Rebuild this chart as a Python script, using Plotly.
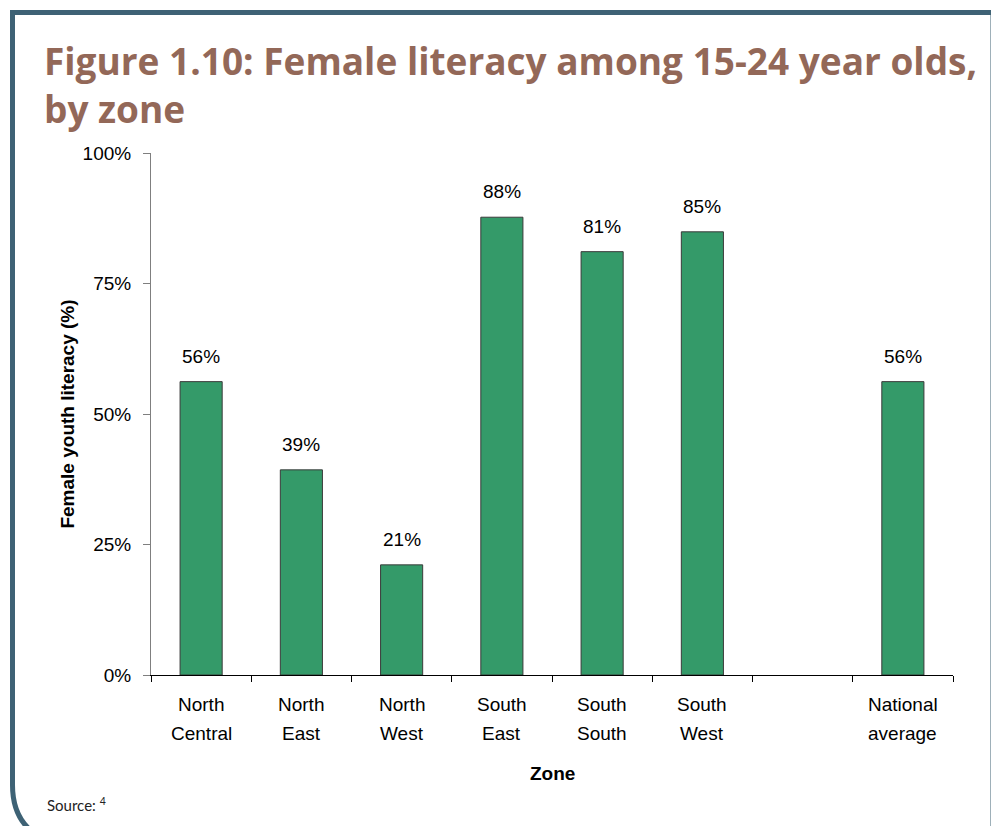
import plotly.graph_objects as go

# ---- data ----
zones = ["North Central", "North East", "North West", "South East",
         "South South", "South West", " ", "National average"]
label_line1 = ["North", "North", "North", "South", "South", "South", "", "National"]
label_line2 = ["Central", "East", "West", "East", "South", "West", "", "average"]
literacy = [56.2, 39.3, 21.1, 87.7, 81.1, 84.9, None, 56.2]
y_ticks = [0, 25, 50, 75, 100]
y_tick_text = ["0%", "25%", "50%", "75%", "100%"]
title_lines = ["Figure 1.10: Female literacy among 15-24 year olds,", "by zone"]

# page body has an 8px margin: screen pixel = figure pixel + 8
OFF = 8
W, H = 999 - OFF, 834 - 2 * OFF
L, R, T, B = 151 - OFF, 999 - 953, 153 - OFF, 834 - OFF - 675
PW, PH = W - L - R, H - T - B


def px(x):  # screen x -> paper
    return (x - OFF - L) / PW


def py(y):  # screen y -> paper
    return (H - B - (y - OFF)) / PH


BAR = "#349a69"
TITLE_C = "#936858"
FRAME_C = "#3e6275"
AX_FONT = "Liberation Sans, Arial, sans-serif"

fig = go.Figure()
fig.add_trace(go.Bar(
    x=zones, y=literacy, width=0.42,
    marker=dict(color=BAR, line=dict(color="#3a3a3a", width=1)),
    hoverinfo="skip",
))

ann = []
# data labels
for z, v in zip(zones, literacy):
    if v is None:
        continue
    ann.append(dict(x=z, y=v, xref="x", yref="y", text=f"{round(v)}%",
                    showarrow=False, yanchor="bottom", yshift=13,
                    font=dict(family=AX_FONT, size=19, color="#000000")))
# category labels
for z, a, b in zip(zones, label_line1, label_line2):
    if a:
        ann.append(dict(x=z, y=py(704), xref="x", yref="paper", text=a,
                        showarrow=False, yanchor="middle",
                        font=dict(family=AX_FONT, size=19, color="#000000")))
    if b:
        ann.append(dict(x=z, y=py(733), xref="x", yref="paper", text=b,
                        showarrow=False, yanchor="middle",
                        font=dict(family=AX_FONT, size=19, color="#000000")))
# x axis title
ann.append(dict(x=0.5, y=py(773), xref="paper", yref="paper", text="<b>Zone</b>",
                showarrow=False, yanchor="middle",
                font=dict(family=AX_FONT, size=19, color="#000000")))
# title
ann.append(dict(x=px(42), y=py(33), xref="paper", yref="paper",
                text="<br>".join(f"<b>{t}</b>" for t in title_lines),
                showarrow=False, xanchor="left", yanchor="top", align="left",
                font=dict(family="Open Sans, sans-serif", size=37, color=TITLE_C)))
# source
ann.append(dict(x=px(45), y=py(805), xref="paper", yref="paper",
                text="Source: <sup>4</sup>",
                showarrow=False, xanchor="left", yanchor="middle",
                font=dict(family="Lato, sans-serif", size=15, color="#222222")))

# frame
x0, y0 = px(12.5), py(12.5)
x1 = px(993)
frame_path = (f"M {x1} {py(845)} L {x1} {y0} L {x0} {y0} L {x0} {py(785)} "
              f"Q {x0} {py(834)} {px(62)} {py(845)}")

fig.update_layout(
    width=W, height=H,
    margin=dict(l=L, r=R, t=T, b=B, autoexpand=False),
    paper_bgcolor="white", plot_bgcolor="white",
    showlegend=False,
    annotations=ann,
    shapes=[dict(type="path", path=frame_path, xref="paper", yref="paper",
                 line=dict(color=FRAME_C, width=5))],
    xaxis=dict(type="category", categoryorder="array", categoryarray=zones,
               range=[-0.5, len(zones) - 0.5], tickson="boundaries",
               showticklabels=False, ticks="outside", ticklen=6,
               tickcolor="#000000", tickwidth=1,
               showline=True, linecolor="#000000", linewidth=1,
               showgrid=False, zeroline=False, fixedrange=True),
    yaxis=dict(range=[0, 100], tickvals=y_ticks, ticktext=y_tick_text,
               ticks="outside", ticklen=7, tickcolor="#7f7f7f", tickwidth=1,
               ticklabelstandoff=8,
               showline=True, linecolor="#7f7f7f", linewidth=1,
               showgrid=False, zeroline=False,
               tickfont=dict(family=AX_FONT, size=19, color="#000000"),
               title=dict(text="<b>Female youth literacy (%)</b>", standoff=2,
                          font=dict(family=AX_FONT, size=19, color="#000000")),
               fixedrange=True),
)

fig.write_html("out.html")
